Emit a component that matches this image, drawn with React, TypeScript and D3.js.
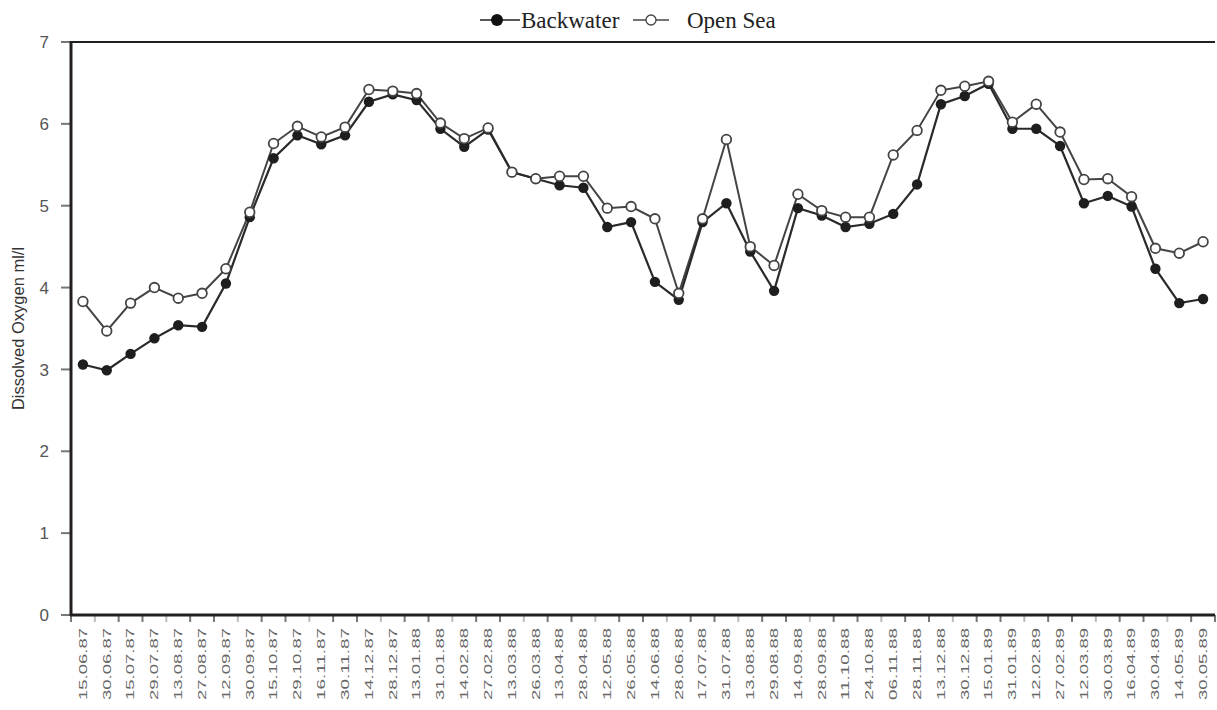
import React, { useRef, useEffect } from 'react';
import * as d3 from 'd3';

const dates = [
  '15.06.87', '30.06.87', '15.07.87', '29.07.87', '13.08.87', '27.08.87', '12.09.87', '30.09.87',
  '15.10.87', '29.10.87', '16.11.87', '30.11.87', '14.12.87', '28.12.87', '13.01.88', '31.01.88',
  '14.02.88', '27.02.88', '13.03.88', '26.03.88', '13.04.88', '28.04.88', '12.05.88', '26.05.88',
  '14.06.88', '28.06.88', '17.07.88', '31.07.88', '13.08.88', '29.08.88', '14.09.88', '28.09.88',
  '11.10.88', '24.10.88', '06.11.88', '28.11.88', '13.12.88', '30.12.88', '15.01.89', '31.01.89',
  '12.02.89', '27.02.89', '12.03.89', '30.03.89', '16.04.89', '30.04.89', '14.05.89', '30.05.89',
];

const backwater = [
  3.06, 2.99, 3.19, 3.38, 3.54, 3.52, 4.05, 4.86, 5.58, 5.86, 5.75, 5.86, 6.27, 6.36, 6.29, 5.94,
  5.72, 5.93, 5.41, 5.33, 5.25, 5.22, 4.74, 4.8, 4.07, 3.85, 4.8, 5.03, 4.44, 3.96, 4.97, 4.88,
  4.74, 4.78, 4.9, 5.26, 6.24, 6.34, 6.49, 5.94, 5.94, 5.73, 5.03, 5.12, 4.99, 4.23, 3.81, 3.86,
];

const openSea = [
  3.83, 3.47, 3.81, 4.0, 3.87, 3.93, 4.23, 4.92, 5.76, 5.97, 5.84, 5.96, 6.42, 6.4, 6.37, 6.01,
  5.82, 5.95, 5.41, 5.33, 5.36, 5.36, 4.97, 4.99, 4.84, 3.93, 4.84, 5.81, 4.5, 4.27, 5.14, 4.94,
  4.86, 4.86, 5.62, 5.92, 6.41, 6.46, 6.52, 6.02, 6.24, 5.9, 5.32, 5.33, 5.11, 4.48, 4.42, 4.56,
];

const yTicks = [0, 1, 2, 3, 4, 5, 6, 7];

export default function App() {
  const ref = useRef<SVGSVGElement>(null);
  const width = 1217;
  const height = 710;

  useEffect(() => {
    document.body.style.margin = '0';
    const svg = d3.select(ref.current);
    svg.selectAll('*').remove();

    const x = d3.scaleBand().domain(dates).range([71, 1215]);
    const y = d3.scaleLinear().domain([0, 7]).range([615, 42]);
    const cx = (d: string) => (x(d) as number) + x.bandwidth() / 2;

    //---------- y ticks and labels ----------//
    const yAxis = svg.append('g');
    yAxis.selectAll('line')
      .data(yTicks)
      .join('line')
      .attr('x1', 61).attr('x2', 71)
      .attr('y1', d => y(d)).attr('y2', d => y(d))
      .attr('stroke', '#777').attr('stroke-width', 2);
    yAxis.selectAll('text')
      .data(yTicks)
      .join('text')
      .attr('x', 49)
      .attr('y', d => y(d))
      .attr('dy', '0.36em')
      .attr('text-anchor', 'end')
      .style('font-family', 'Liberation Sans, Arial, sans-serif')
      .style('font-size', '17px')
      .attr('fill', '#555')
      .text(d => d);

    svg.append('text')
      .attr('transform', `translate(24,${(y(0) + y(7)) / 2}) rotate(-90)`)
      .attr('text-anchor', 'middle')
      .style('font-family', 'Liberation Sans, Arial, sans-serif')
      .style('font-size', '16.5px')
      .attr('fill', '#333')
      .text('Dissolved Oxygen ml/l');

    //---------- x ticks (between categories) ----------//
    const bounds = dates.map(d => x(d) as number).concat([x.range()[1]]);
    svg.append('g')
      .selectAll('line')
      .data(bounds)
      .join('line')
      .attr('x1', d => d).attr('x2', d => d)
      .attr('y1', 615).attr('y2', 622)
      .attr('stroke', (d, i) => (i % 3 === 1 ? '#bbb' : '#777'))
      .attr('stroke-width', 2);

    svg.append('g')
      .selectAll('text')
      .data(dates)
      .join('text')
      .attr('transform', d => `translate(${cx(d)},628) rotate(-90)`)
      .attr('text-anchor', 'end')
      .attr('dy', '0.35em')
      .attr('textLength', 72)
      .attr('lengthAdjust', 'spacingAndGlyphs')
      .style('font-family', 'Liberation Sans, Arial, sans-serif')
      .style('font-size', '11px')
      .attr('fill', '#666')
      .text(d => d);

    //---------- frame ----------//
    svg.append('line')
      .attr('x1', 71).attr('x2', 1215).attr('y1', 42).attr('y2', 42)
      .attr('stroke', '#231f20').attr('stroke-width', 2);
    svg.append('line')
      .attr('x1', 71).attr('x2', 71).attr('y1', 41).attr('y2', 616)
      .attr('stroke', '#231f20').attr('stroke-width', 3);
    svg.append('line')
      .attr('x1', 70).attr('x2', 1215).attr('y1', 615).attr('y2', 615)
      .attr('stroke', '#231f20').attr('stroke-width', 3);

    //---------- series ----------//
    const line = d3.line<number>()
      .x((d, i) => cx(dates[i]))
      .y(d => y(d));

    svg.append('path')
      .attr('d', line(openSea))
      .attr('fill', 'none')
      .attr('stroke', '#444')
      .attr('stroke-width', 2);
    svg.append('path')
      .attr('d', line(backwater))
      .attr('fill', 'none')
      .attr('stroke', '#2a2a2a')
      .attr('stroke-width', 2.2);

    svg.append('g')
      .selectAll('circle')
      .data(backwater)
      .join('circle')
      .attr('cx', (d, i) => cx(dates[i]))
      .attr('cy', d => y(d))
      .attr('r', 5.2)
      .attr('fill', '#1e1e1e');

    svg.append('g')
      .selectAll('circle')
      .data(openSea)
      .join('circle')
      .attr('cx', (d, i) => cx(dates[i]))
      .attr('cy', d => y(d))
      .attr('r', 4.8)
      .attr('fill', 'white')
      .attr('stroke', '#444')
      .attr('stroke-width', 1.8);

    //---------- legend ----------//
    const legend = svg.append('g')
      .style('font-family', 'Liberation Serif, Times New Roman, serif')
      .style('font-size', '23px')
      .attr('fill', '#222');
    legend.append('line')
      .attr('x1', 480).attr('x2', 520).attr('y1', 20).attr('y2', 20)
      .attr('stroke', '#222').attr('stroke-width', 1.5);
    legend.append('circle')
      .attr('cx', 497).attr('cy', 20).attr('r', 6).attr('fill', '#111');
    legend.append('text').attr('x', 521).attr('y', 28).text('Backwater');
    legend.append('line')
      .attr('x1', 633).attr('x2', 669).attr('y1', 20).attr('y2', 20)
      .attr('stroke', '#444').attr('stroke-width', 1.3);
    legend.append('circle')
      .attr('cx', 651).attr('cy', 20).attr('r', 5)
      .attr('fill', 'white').attr('stroke', '#444').attr('stroke-width', 1.3);
    legend.append('text').attr('x', 687).attr('y', 28).text('Open Sea');
  }, []);

  return <svg ref={ref} width={width} height={height} style={{ display: 'block', background: 'white' }} />;
}
